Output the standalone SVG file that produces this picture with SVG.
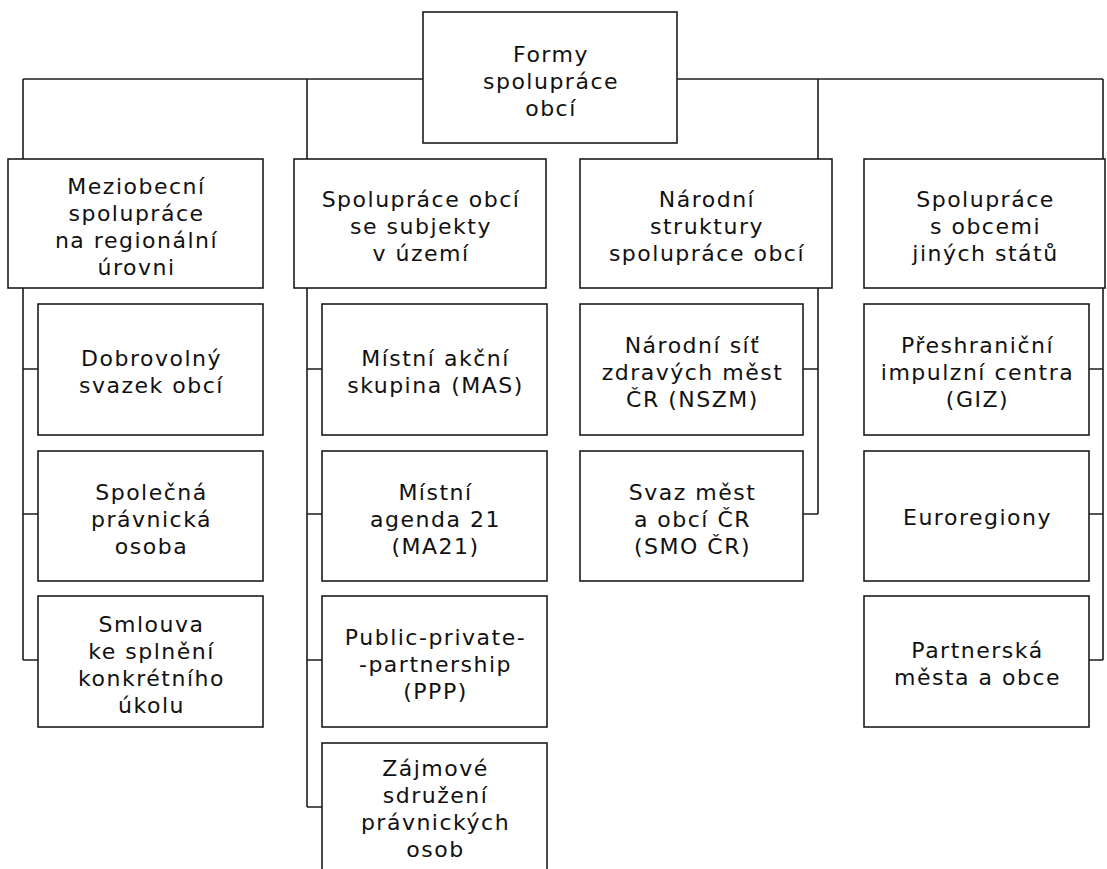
<svg xmlns="http://www.w3.org/2000/svg" width="1107" height="869" viewBox="0 0 1107 869">
<style>
.bg{fill:#ffffff}
.box{fill:#ffffff;stroke:#1c1c1c;stroke-width:1.6}
.ln{fill:none;stroke:#1c1c1c;stroke-width:1.6}
.t{font-family:"DejaVu Sans",sans-serif;font-size:22px;letter-spacing:1.5px;text-anchor:middle;fill:#111111}
</style>
<rect class="bg" x="0" y="0" width="1107" height="869"/>
<g id="connectors">
<path class="ln" d="M23 79H1103"/>
<path class="ln" d="M23 79V660M23 369H38M23 514H38M23 660H38"/>
<path class="ln" d="M307 79V807M307 369H322M307 514H322M307 660H322M307 807H322"/>
<path class="ln" d="M818 79V514M803 369H818M803 514H818"/>
<path class="ln" d="M1103 79V660M1089 369H1103M1089 514H1103M1089 660H1103"/>
</g>
<g id="root">
<rect class="box" x="423" y="12" width="254" height="131"/>
<text class="t" x="551" y="61.5">Formy</text>
<text class="t" x="551" y="88.5">spolupráce</text>
<text class="t" x="551" y="115.5">obcí</text>
</g>
<g id="meziobecni">
<rect class="box" x="8" y="159" width="255" height="129"/>
<text class="t" x="136.5" y="194">Meziobecní</text>
<text class="t" x="136.5" y="221">spolupráce</text>
<text class="t" x="136.5" y="248">na regionální</text>
<text class="t" x="136.5" y="275">úrovni</text>
</g>
<g id="subjekty">
<rect class="box" x="294" y="159" width="252" height="129"/>
<text class="t" x="421" y="207">Spolupráce obcí</text>
<text class="t" x="421" y="234">se subjekty</text>
<text class="t" x="421" y="261">v území</text>
</g>
<g id="narodni">
<rect class="box" x="580" y="159" width="252" height="129"/>
<text class="t" x="707" y="207">Národní</text>
<text class="t" x="707" y="234">struktury</text>
<text class="t" x="707" y="261">spolupráce obcí</text>
</g>
<g id="zahranicni">
<rect class="box" x="864" y="159" width="241" height="129"/>
<text class="t" x="985.5" y="207">Spolupráce</text>
<text class="t" x="985.5" y="234">s obcemi</text>
<text class="t" x="985.5" y="261">jiných států</text>
</g>
<g id="dso">
<rect class="box" x="38" y="304" width="225" height="131"/>
<text class="t" x="151.5" y="366">Dobrovolný</text>
<text class="t" x="151.5" y="393">svazek obcí</text>
</g>
<g id="spolecna">
<rect class="box" x="38" y="451" width="225" height="130"/>
<text class="t" x="151.5" y="500">Společná</text>
<text class="t" x="151.5" y="527">právnická</text>
<text class="t" x="151.5" y="554">osoba</text>
</g>
<g id="smlouva">
<rect class="box" x="38" y="596" width="225" height="131"/>
<text class="t" x="151.5" y="632">Smlouva</text>
<text class="t" x="151.5" y="659">ke splnění</text>
<text class="t" x="151.5" y="686">konkrétního</text>
<text class="t" x="151.5" y="713">úkolu</text>
</g>
<g id="mas">
<rect class="box" x="322" y="304" width="225" height="131"/>
<text class="t" x="435.5" y="366">Místní akční</text>
<text class="t" x="435.5" y="393">skupina (MAS)</text>
</g>
<g id="ma21">
<rect class="box" x="322" y="451" width="225" height="130"/>
<text class="t" x="435.5" y="500">Místní</text>
<text class="t" x="435.5" y="527">agenda 21</text>
<text class="t" x="435.5" y="554">(MA21)</text>
</g>
<g id="ppp">
<rect class="box" x="322" y="596" width="225" height="131"/>
<text class="t" x="435.5" y="645">Public-private-</text>
<text class="t" x="435.5" y="672">-partnership</text>
<text class="t" x="435.5" y="699">(PPP)</text>
</g>
<g id="zajmove">
<rect class="box" x="322" y="743" width="225" height="132"/>
<text class="t" x="435.5" y="776">Zájmové</text>
<text class="t" x="435.5" y="803">sdružení</text>
<text class="t" x="435.5" y="830">právnických</text>
<text class="t" x="435.5" y="857">osob</text>
</g>
<g id="nszm">
<rect class="box" x="580" y="304" width="223" height="131"/>
<text class="t" x="692.5" y="353">Národní síť</text>
<text class="t" x="692.5" y="380">zdravých měst</text>
<text class="t" x="692.5" y="407">ČR (NSZM)</text>
</g>
<g id="smo">
<rect class="box" x="580" y="451" width="223" height="130"/>
<text class="t" x="692.5" y="500">Svaz měst</text>
<text class="t" x="692.5" y="527">a obcí ČR</text>
<text class="t" x="692.5" y="554">(SMO ČR)</text>
</g>
<g id="giz">
<rect class="box" x="864" y="304" width="225" height="131"/>
<text class="t" x="977.5" y="353">Přeshraniční</text>
<text class="t" x="977.5" y="380">impulzní centra</text>
<text class="t" x="977.5" y="407">(GIZ)</text>
</g>
<g id="euroregiony">
<rect class="box" x="864" y="451" width="225" height="130"/>
<text class="t" x="977.5" y="525">Euroregiony</text>
</g>
<g id="partnerska">
<rect class="box" x="864" y="596" width="225" height="131"/>
<text class="t" x="977.5" y="658">Partnerská</text>
<text class="t" x="977.5" y="685">města a obce</text>
</g>
</svg>
